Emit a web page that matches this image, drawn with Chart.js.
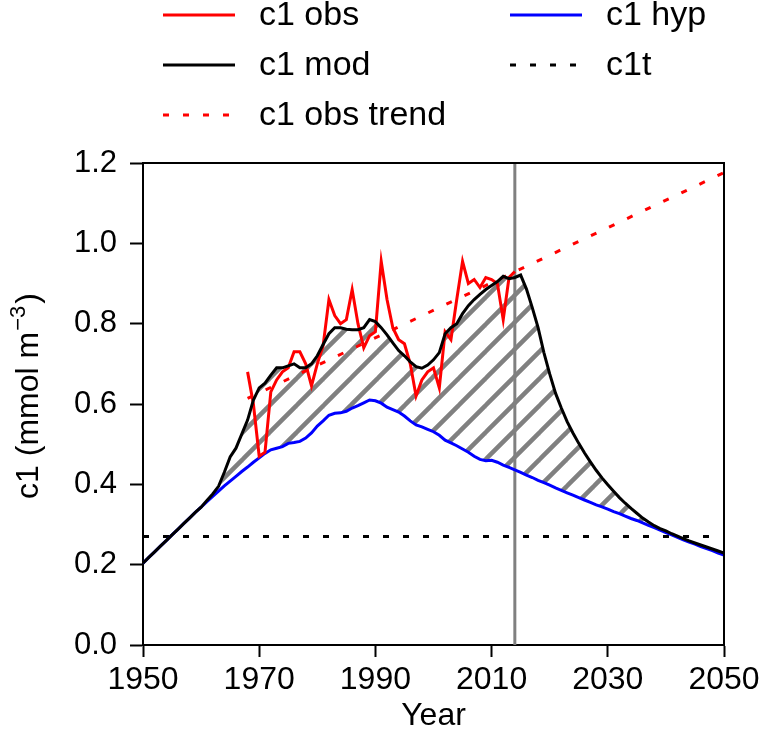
<!DOCTYPE html>
<html>
<head>
<meta charset="utf-8">
<script src="https://cdn.jsdelivr.net/npm/chart.js@4.4.0/dist/chart.umd.min.js"></script>
<style>
  html, body { margin: 0; padding: 0; background: #fff; }
</style>
</head>
<body>
<canvas id="c1Chart" width="765" height="739"></canvas>
<script>
// observed c1, 1968-2014
const obsYears = [
  1968, 1969, 1970, 1971, 1972, 1973, 1974, 1975, 1976, 1977,
  1978, 1979, 1980, 1981, 1982, 1983, 1984, 1985, 1986, 1987,
  1988, 1989, 1990, 1991, 1992, 1993, 1994, 1995, 1996, 1997,
  1998, 1999, 2000, 2001, 2002, 2003, 2004, 2005, 2006, 2007,
  2008, 2009, 2010, 2011, 2012, 2013, 2014
];
const obsVals = [
  0.68, 0.60, 0.47, 0.48, 0.63, 0.66, 0.68, 0.69, 0.73, 0.73,
  0.70, 0.645, 0.70, 0.745, 0.86, 0.82, 0.80, 0.81, 0.885, 0.80,
  0.74, 0.77, 0.78, 0.955, 0.86, 0.79, 0.76, 0.75, 0.70, 0.62,
  0.66, 0.68, 0.69, 0.64, 0.78, 0.76, 0.86, 0.955, 0.90, 0.91,
  0.89, 0.915, 0.91, 0.90, 0.81, 0.915, 0.93
];

// model years (shared by hyp and mod so the hatch can fill between them)
const modelYears = [
  1950, 1951, 1952, 1953, 1954, 1955, 1956, 1957, 1958, 1959,
  1960, 1961, 1962, 1963, 1964, 1965, 1966, 1967, 1968, 1969,
  1970, 1971, 1972, 1973, 1974, 1975, 1976, 1977, 1978, 1979,
  1980, 1981, 1982, 1983, 1984, 1985, 1986, 1987, 1988, 1989,
  1990, 1991, 1992, 1993, 1994, 1995, 1996, 1997, 1998, 1999,
  2000, 2001, 2002, 2003, 2004, 2005, 2006, 2007, 2008, 2009,
  2010, 2011, 2012, 2013, 2014, 2015, 2016, 2017, 2018, 2019,
  2020, 2021, 2022, 2023, 2024, 2025, 2026, 2027, 2028, 2029,
  2030, 2031, 2032, 2033, 2034, 2035, 2036, 2037, 2038, 2039,
  2040, 2041, 2042, 2043, 2044, 2045, 2046, 2047, 2048, 2049,
  2050
];
const hypVals = [
  0.204, 0.218, 0.232, 0.246, 0.260, 0.274, 0.288, 0.302, 0.316, 0.330,
  0.343, 0.357, 0.370, 0.383, 0.396, 0.408, 0.420, 0.432, 0.443, 0.455,
  0.466, 0.477, 0.486, 0.490, 0.494, 0.502, 0.504, 0.507, 0.515, 0.528,
  0.545, 0.558, 0.572, 0.577, 0.578, 0.582, 0.590, 0.596, 0.603, 0.610,
  0.608, 0.602, 0.592, 0.586, 0.580, 0.570, 0.558, 0.548, 0.543, 0.537,
  0.531, 0.522, 0.510, 0.503, 0.496, 0.488, 0.480, 0.470, 0.462, 0.459,
  0.460, 0.455, 0.448, 0.442, 0.436, 0.430, 0.423, 0.417, 0.410, 0.404,
  0.398, 0.391, 0.385, 0.379, 0.373, 0.367, 0.361, 0.355, 0.349, 0.344,
  0.338, 0.332, 0.327, 0.321, 0.315, 0.310, 0.304, 0.298, 0.292, 0.286,
  0.280, 0.274, 0.268, 0.262, 0.256, 0.251, 0.245, 0.240, 0.235, 0.229,
  0.224
];
const modVals = [
  0.204, 0.218, 0.232, 0.246, 0.260, 0.274, 0.288, 0.302, 0.316, 0.330,
  0.343, 0.360, 0.376, 0.395, 0.430, 0.468, 0.490, 0.525, 0.560, 0.610,
  0.640, 0.652, 0.672, 0.690, 0.690, 0.695, 0.700, 0.690, 0.690, 0.700,
  0.720, 0.748, 0.775, 0.790, 0.790, 0.786, 0.785, 0.785, 0.790, 0.810,
  0.805, 0.790, 0.772, 0.752, 0.733, 0.720, 0.705, 0.693, 0.689, 0.697,
  0.710, 0.728, 0.775, 0.790, 0.800, 0.825, 0.845, 0.860, 0.873, 0.885,
  0.895, 0.905, 0.918, 0.912, 0.915, 0.921, 0.886, 0.840, 0.790, 0.728,
  0.675, 0.627, 0.590, 0.556, 0.528, 0.502, 0.478, 0.456, 0.435, 0.416,
  0.399, 0.383, 0.367, 0.353, 0.340, 0.328, 0.316, 0.306, 0.297, 0.290,
  0.284, 0.277, 0.271, 0.265, 0.259, 0.254, 0.249, 0.244, 0.239, 0.234,
  0.229
];

// threshold c1t and the linear trend of the observations
const c1tYears = [1950, 2050];
const c1tVals = [0.27, 0.27];
const trendYears = [1968, 2050];
const trendVals = [0.614, 1.176];

const refYear = 2014;
const xTicks = [1950, 1970, 1990, 2010, 2030, 2050];
const yTicks = [0.0, 0.2, 0.4, 0.6, 0.8, 1.0, 1.2];

const FONT = '"Liberation Sans", Arial, Helvetica, sans-serif';
Chart.defaults.font.family = FONT;
Chart.defaults.color = '#000';

const pairs = (xs, ys) => xs.map((x, i) => ({ x: x, y: ys[i] }));

const canvas = document.getElementById('c1Chart');
const ctx = canvas.getContext('2d');

// diagonal gray hatch for the area between mod and hyp
function makeHatch() {
  const s = 27;
  const tile = document.createElement('canvas');
  tile.width = s;
  tile.height = s;
  const g = tile.getContext('2d');
  g.strokeStyle = '#808080';
  g.lineWidth = 4.5;
  g.lineCap = 'square';
  for (const o of [-s, 0, s]) {
    g.beginPath();
    g.moveTo(o, s);
    g.lineTo(o + s, 0);
    g.stroke();
  }
  return ctx.createPattern(tile, 'repeat');
}

// top and right spines
const frame = {
  id: 'frame',
  afterDraw(chart) {
    const { ctx, chartArea: a } = chart;
    ctx.save();
    ctx.strokeStyle = '#000';
    ctx.lineWidth = 2;
    ctx.beginPath();
    ctx.moveTo(a.left, a.top);
    ctx.lineTo(a.right, a.top);
    ctx.lineTo(a.right, a.bottom);
    ctx.stroke();
    ctx.restore();
  }
};

// y axis title with a superscript
const yTitle = {
  id: 'yTitle',
  afterDraw(chart) {
    const { ctx, chartArea: a } = chart;
    const main = 'c1 (mmol m', sup = '\u22123', tail = ')';
    const big = '32px ' + FONT, small = '22px ' + FONT;
    ctx.save();
    ctx.fillStyle = '#000';
    ctx.textBaseline = 'alphabetic';
    ctx.textAlign = 'left';
    ctx.translate(38, (a.top + a.bottom) / 2 - 8);
    ctx.rotate(-Math.PI / 2);
    ctx.font = big;
    const w1 = ctx.measureText(main).width;
    const w3 = ctx.measureText(tail).width;
    ctx.font = small;
    const w2 = ctx.measureText(sup).width;
    let x = -(w1 + w2 + w3 + 3) / 2;
    ctx.font = big;
    ctx.fillText(main, x, 0);
    x += w1 + 1;
    ctx.font = small;
    ctx.fillText(sup, x, -13);
    x += w2 + 2;
    ctx.font = big;
    ctx.fillText(tail, x, 0);
    ctx.restore();
  }
};

// two-column legend like the original figure
const gridLegend = {
  id: 'gridLegend',
  afterDraw(chart) {
    const { ctx } = chart;
    const ds = chart.data.datasets;
    const slots = [
      { i: 0, col: 0, row: 0 },
      { i: 1, col: 1, row: 0 },
      { i: 2, col: 0, row: 1 },
      { i: 3, col: 1, row: 1 },
      { i: 4, col: 0, row: 2 }
    ];
    const cols = [163, 510];
    ctx.save();
    ctx.font = '34px ' + FONT;
    ctx.textBaseline = 'middle';
    ctx.fillStyle = '#000';
    slots.forEach(s => {
      const d = ds[s.i];
      const x = cols[s.col];
      const y = 15 + s.row * 50;
      ctx.strokeStyle = d.borderColor;
      ctx.lineWidth = 3;
      ctx.setLineDash(d.borderDash || []);
      ctx.beginPath();
      ctx.moveTo(x, y);
      ctx.lineTo(x + 72, y);
      ctx.stroke();
      ctx.setLineDash([]);
      ctx.fillText(d.label, x + 96, y + 1);
    });
    ctx.restore();
  }
};

new Chart(ctx, {
  type: 'line',
  data: {
    datasets: [
      {
        label: 'c1 obs',
        data: pairs(obsYears, obsVals),
        borderColor: '#ff0000',
        borderWidth: 3,
        order: 1
      },
      {
        label: 'c1 hyp',
        data: pairs(modelYears, hypVals),
        borderColor: '#0000ff',
        borderWidth: 3,
        order: 2
      },
      {
        label: 'c1 mod',
        data: pairs(modelYears, modVals),
        borderColor: '#000000',
        borderWidth: 3,
        fill: 1,
        backgroundColor: makeHatch(),
        order: 0
      },
      {
        label: 'c1t',
        data: pairs(c1tYears, c1tVals),
        borderColor: '#000000',
        borderWidth: 3,
        borderDash: [6, 14],
        order: 3
      },
      {
        label: 'c1 obs trend',
        data: pairs(trendYears, trendVals),
        borderColor: '#ff0000',
        borderWidth: 3,
        borderDash: [6, 14],
        order: 3
      },
      {
        label: 'ref',
        data: [{ x: refYear, y: yTicks[0] }, { x: refYear, y: yTicks[yTicks.length - 1] }],
        borderColor: '#808080',
        borderWidth: 3,
        order: 5
      }
    ]
  },
  options: {
    responsive: false,
    animation: false,
    layout: { padding: { top: 163, right: 41, left: 0, bottom: 0 } },
    elements: {
      point: { radius: 0, hoverRadius: 0 },
      line: { tension: 0, fill: false }
    },
    plugins: {
      legend: { display: false },
      tooltip: { enabled: false },
      filler: { drawTime: 'beforeDatasetsDraw' }
    },
    scales: {
      x: {
        type: 'linear',
        min: 1950,
        max: 2050,
        afterBuildTicks: s => { s.ticks = xTicks.map(v => ({ value: v })); },
        afterFit: s => { s.height = 94; },
        ticks: {
          font: { size: 32 },
          color: '#000',
          padding: 4,
          maxRotation: 0,
          callback: v => String(v)
        },
        grid: {
          drawOnChartArea: false,
          tickLength: 12,
          tickWidth: 2,
          tickColor: '#000'
        },
        border: { display: true, color: '#000', width: 2 },
        title: {
          display: true,
          text: 'Year',
          font: { size: 32 },
          color: '#000',
          padding: { top: 0, bottom: 4 }
        }
      },
      y: {
        min: 0,
        max: 1.2,
        afterBuildTicks: s => { s.ticks = yTicks.map(v => ({ value: v })); },
        afterFit: s => { s.width = 143; },
        ticks: {
          font: { size: 31 },
          color: '#000',
          padding: 13,
          callback: v => v.toFixed(1)
        },
        grid: {
          drawOnChartArea: false,
          tickLength: 13,
          tickWidth: 2,
          tickColor: '#000'
        },
        border: { display: true, color: '#000', width: 2 }
      }
    }
  },
  plugins: [frame, yTitle, gridLegend]
});
</script>
</body>
</html>
